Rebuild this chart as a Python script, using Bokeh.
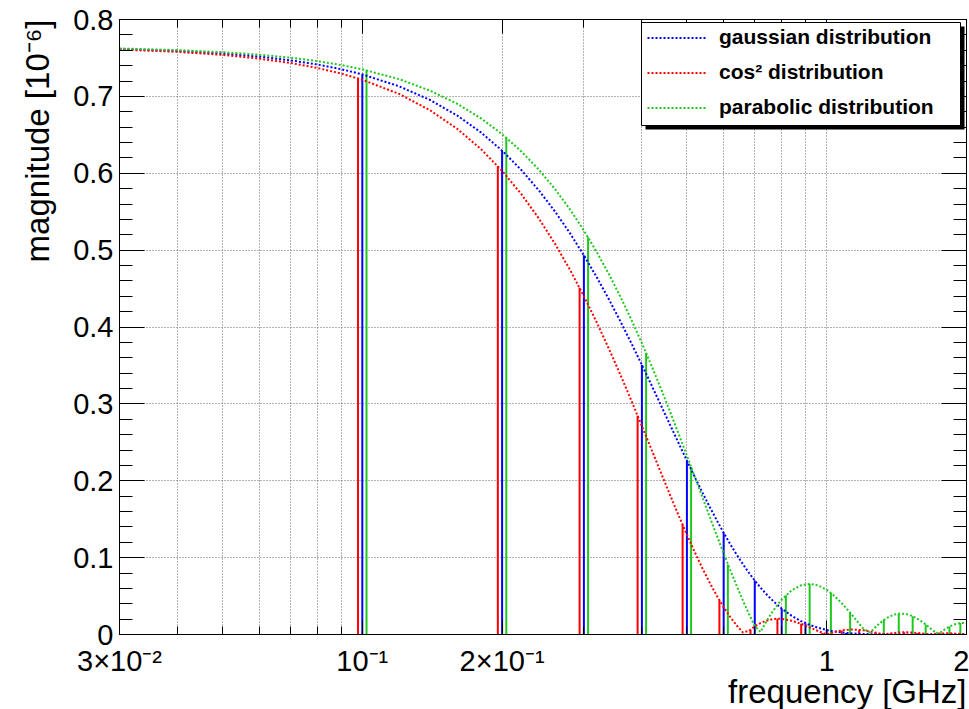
from bokeh.plotting import figure
from bokeh.models import (FixedTicker, LinearAxis, LogAxis, Legend, LegendItem,
                          BoxAnnotation, Title)
from bokeh.embed import file_html
from bokeh.resources import INLINE

# ---------------------------------------------------------------------------
# Bunch form-factor magnitudes [1e-6] versus frequency [GHz]
# ---------------------------------------------------------------------------
freq = [0.03, 0.04, 0.05, 0.06, 0.07, 0.08, 0.09, 0.10,
        0.12, 0.14, 0.16, 0.18, 0.20, 0.22, 0.24, 0.26, 0.28, 0.30,
        0.32, 0.34, 0.36, 0.38, 0.40, 0.42, 0.44, 0.46, 0.48, 0.50,
        0.52, 0.54, 0.56, 0.58, 0.60, 0.62, 0.64, 0.66, 0.68, 0.70,
        0.72, 0.74, 0.76, 0.78, 0.80,
        0.84, 0.88, 0.92, 0.96, 1.00, 1.04, 1.08, 1.12, 1.16, 1.20,
        1.24, 1.28, 1.32, 1.36, 1.40, 1.44, 1.48, 1.52, 1.56, 1.60,
        1.64, 1.68, 1.72, 1.76, 1.80, 1.84, 1.88, 1.92, 1.96, 2.00]

gauss_mag = [0.7617, 0.7591, 0.7557, 0.7517, 0.7469, 0.7415, 0.7354, 0.7286,
             0.7131, 0.6953, 0.6752, 0.6532, 0.6294, 0.6042, 0.5777, 0.5502, 0.5220, 0.4933,
             0.4643, 0.4354, 0.4067, 0.3783, 0.3507, 0.3237, 0.2976, 0.2726, 0.2488, 0.2261,
             0.2047, 0.1846, 0.1658, 0.1484, 0.1322, 0.1174, 0.1038, 0.0915, 0.0803, 0.0702,
             0.0611, 0.0530, 0.0458, 0.0394, 0.0338,
             0.0245, 0.0175, 0.0123, 0.0086, 0.0058, 0.0039, 0.0026, 0.0017, 0.0011, 0.0007,
             0.0004, 0.0003, 0.0002, 0.0001, 0.0001, 0.0, 0.0, 0.0, 0.0, 0.0,
             0.0, 0.0, 0.0, 0.0, 0.0, 0.0, 0.0, 0.0, 0.0, 0.0]

cos2_mag = [0.7610, 0.7579, 0.7540, 0.7491, 0.7435, 0.7370, 0.7297, 0.7216,
            0.7032, 0.6818, 0.6579, 0.6315, 0.6031, 0.5728, 0.5411, 0.5082, 0.4744, 0.4400,
            0.4055, 0.3710, 0.3370, 0.3036, 0.2711, 0.2398, 0.2098, 0.1814, 0.1547, 0.1299,
            0.1070, 0.0860, 0.0672, 0.0503, 0.0355, 0.0227, 0.0117, 0.0026, 0.0047, 0.0105,
            0.0148, 0.0178, 0.0196, 0.0204, 0.0203,
            0.0180, 0.0140, 0.0091, 0.0043, 0.0000, 0.0033, 0.0054, 0.0064, 0.0063, 0.0054,
            0.0039, 0.0022, 0.0005, 0.0009, 0.0020, 0.0027, 0.0029, 0.0027, 0.0021, 0.0014,
            0.0005, 0.0002, 0.0009, 0.0013, 0.0015, 0.0015, 0.0013, 0.0009, 0.0005, 0.0000]

parab_mag = [0.7623, 0.7602, 0.7575, 0.7542, 0.7503, 0.7458, 0.7408, 0.7352,
             0.7224, 0.7074, 0.6904, 0.6715, 0.6508, 0.6284, 0.6046, 0.5794, 0.5530, 0.5255,
             0.4972, 0.4682, 0.4387, 0.4089, 0.3789, 0.3489, 0.3192, 0.2897, 0.2608, 0.2325,
             0.2050, 0.1785, 0.1530, 0.1286, 0.1055, 0.0837, 0.0633, 0.0443, 0.0269, 0.0110,
             0.0033, 0.0161, 0.0274, 0.0371, 0.0453,
             0.0573, 0.0640, 0.0659, 0.0637, 0.0581, 0.0500, 0.0401, 0.0293, 0.0181, 0.0074,
             0.0025, 0.0110, 0.0178, 0.0229, 0.0260, 0.0272, 0.0267, 0.0246, 0.0213, 0.0170,
             0.0122, 0.0070, 0.0019, 0.0029, 0.0071, 0.0105, 0.0129, 0.0144, 0.0150, 0.0145]

# Beam harmonics (multiples of the 100 MHz repetition rate) and the
# magnitude of each spectrum at its own (slightly nudged) stem position
harm_freq = [0.1, 0.2, 0.3, 0.4, 0.5, 0.6, 0.7, 0.8, 0.9, 1.0,
             1.1, 1.2, 1.3, 1.4, 1.5, 1.6, 1.7, 1.8, 1.9, 2.0]
gauss_harm = [0.7286, 0.6294, 0.4933, 0.3507, 0.2261, 0.1322, 0.0702, 0.0338, 0.0147, 0.0058,
              0.0021, 0.0007, 0.0002, 0.0001, 0.0, 0.0, 0.0, 0.0, 0.0, 0.0]
cos2_harm = [0.7234, 0.6092, 0.4509, 0.2846, 0.1427, 0.0446, 0.0064, 0.0204, 0.0139, 0.0021,
             0.0053, 0.0060, 0.0025, 0.0013, 0.0029, 0.0020, 0.0000, 0.0013, 0.0014, 0.0005]
parab_harm = [0.7340, 0.6463, 0.5168, 0.3662, 0.2180, 0.0912, 0.0001, 0.0510, 0.0659, 0.0541,
              0.0284, 0.0012, 0.0192, 0.0270, 0.0238, 0.0129, 0.0001, 0.0103, 0.0148, 0.0132]

# side-by-side display of the three stem sets around each harmonic
STEM_SHIFT = {"cos2": 0.979, "gauss": 1.0, "parab": 1.021}

# Axis ticks and labels
x_major = [0.03, 0.1, 0.2, 1.0, 2.0]
x_major_labels = ["3×10⁻²", "10⁻¹", "2×10⁻¹", "1", "2"]
x_minor = [0.04, 0.05, 0.06, 0.07, 0.08, 0.09, 0.3, 0.4, 0.5, 0.6, 0.7, 0.8, 0.9]
y_major = [0.0, 0.1, 0.2, 0.3, 0.4, 0.5, 0.6, 0.7, 0.8]
y_major_labels = ["0", "0.1", "0.2", "0.3", "0.4", "0.5", "0.6", "0.7", "0.8"]
y_minor = [round(0.02 * i, 2) for i in range(1, 40) if i % 5]

FONT = "Liberation Sans"
BLUE, RED, GREEN = "#0000ff", "#ff0000", "#1ec81e"

p = figure(width=969, height=709, x_axis_type="log",
           x_range=(0.03, 2.0), y_range=(0.0, 0.8),
           output_backend="svg", toolbar_location=None,
           min_border_left=119, min_border_right=3,
           min_border_top=19, min_border_bottom=75,
           background_fill_color="white", border_fill_color="white",
           outline_line_color="black")

xticker = FixedTicker(ticks=x_major, minor_ticks=x_minor)
yticker = FixedTicker(ticks=y_major, minor_ticks=y_minor)

xa = p.xaxis[0]
xa.ticker = xticker
xa.major_label_overrides = dict(zip(x_major, x_major_labels))
xa.major_label_text_font = FONT
xa.major_label_text_font_size = "29px"
xa.major_label_text_color = "black"
xa.major_label_standoff = 10
xa.major_tick_in, xa.major_tick_out = 14, 0
xa.minor_tick_in, xa.minor_tick_out = 8, 0

ya = p.yaxis[0]
ya.ticker = yticker
ya.major_label_overrides = dict(zip(y_major, y_major_labels))
ya.major_label_text_font = FONT
ya.major_label_text_font_size = "29px"
ya.major_label_text_color = "black"
ya.major_label_standoff = 6
ya.major_tick_in, ya.major_tick_out = 25, 0
ya.minor_tick_in, ya.minor_tick_out = 13, 0

# axis titles sit at the far (high-value) end of each axis
x_title = Title(text="frequency [GHz]", align="right", vertical_align="bottom",
                standoff=-17, text_font=FONT, text_font_size="33px",
                text_font_style="normal", text_color="black")
y_title = Title(text="magnitude [10⁻⁶]", align="right", vertical_align="top",
                standoff=25, text_font=FONT, text_font_size="33px",
                text_font_style="normal", text_color="black")
p.add_layout(x_title, "below")
p.add_layout(y_title, "left")

# mirrored ticks on the top and right frame edges, without labels
top = LogAxis(ticker=xticker, major_label_overrides={t: "" for t in x_major},
              major_label_text_font_size="1px", major_label_standoff=0,
              major_tick_in=14, major_tick_out=0, minor_tick_in=8, minor_tick_out=0)
right = LinearAxis(ticker=yticker, major_label_overrides={t: "" for t in y_major},
                   major_label_text_font_size="1px", major_label_standoff=0,
                   major_tick_in=25, major_tick_out=0, minor_tick_in=13, minor_tick_out=0)
p.add_layout(top, "above")
p.add_layout(right, "right")

for ax in (xa, ya, top, right):
    ax.axis_line_color = "black"
    ax.major_tick_line_color = "black"
    ax.minor_tick_line_color = "black"

# dotted grid at every labelled position
p.xgrid.grid_line_color = "#666666"
p.xgrid.grid_line_dash = "1 2"
p.xgrid.minor_grid_line_color = "#666666"
p.xgrid.minor_grid_line_dash = "1 2"
p.ygrid.grid_line_color = "#666666"
p.ygrid.grid_line_dash = "1 2"

# harmonic stems
for vals, key, col in ((cos2_harm, "cos2", RED), (gauss_harm, "gauss", BLUE),
                       (parab_harm, "parab", GREEN)):
    xs = [f * STEM_SHIFT[key] for f in harm_freq]
    p.segment(x0=xs, y0=[0.0] * len(xs), x1=xs, y1=vals, line_color=col, line_width=2)

# continuous spectra
r_gauss = p.line(freq, gauss_mag, line_color=BLUE, line_width=2, line_dash="2 2")
r_cos2 = p.line(freq, cos2_mag, line_color=RED, line_width=2, line_dash="2 2")
r_parab = p.line(freq, parab_mag, line_color=GREEN, line_width=2, line_dash="2 2")

# legend frame with drop shadow (frame-relative pixels)
shadow = BoxAnnotation(left=526, right=845, top=608, bottom=505,
                       left_units="screen", right_units="screen",
                       top_units="screen", bottom_units="screen",
                       fill_color="black", fill_alpha=1.0, line_alpha=0.0)
box = BoxAnnotation(left=522, right=841, top=612, bottom=509,
                    left_units="screen", right_units="screen",
                    top_units="screen", bottom_units="screen",
                    fill_color="white", fill_alpha=1.0,
                    line_color="black", line_width=1, line_alpha=1.0)
p.add_layout(shadow)
p.add_layout(box)

legend = Legend(items=[LegendItem(label="gaussian distribution", renderers=[r_gauss]),
                       LegendItem(label="cos² distribution", renderers=[r_cos2]),
                       LegendItem(label="parabolic distribution", renderers=[r_parab])],
                location=(522, 509), margin=0, padding=6, spacing=11,
                glyph_width=59, glyph_height=23, label_height=23, label_standoff=13,
                label_text_font=FONT, label_text_font_style="bold",
                label_text_font_size="21px", label_text_color="black",
                background_fill_alpha=0.0, border_line_alpha=0.0)
p.add_layout(legend)

open("out.html", "w").write(file_html(p, INLINE))
